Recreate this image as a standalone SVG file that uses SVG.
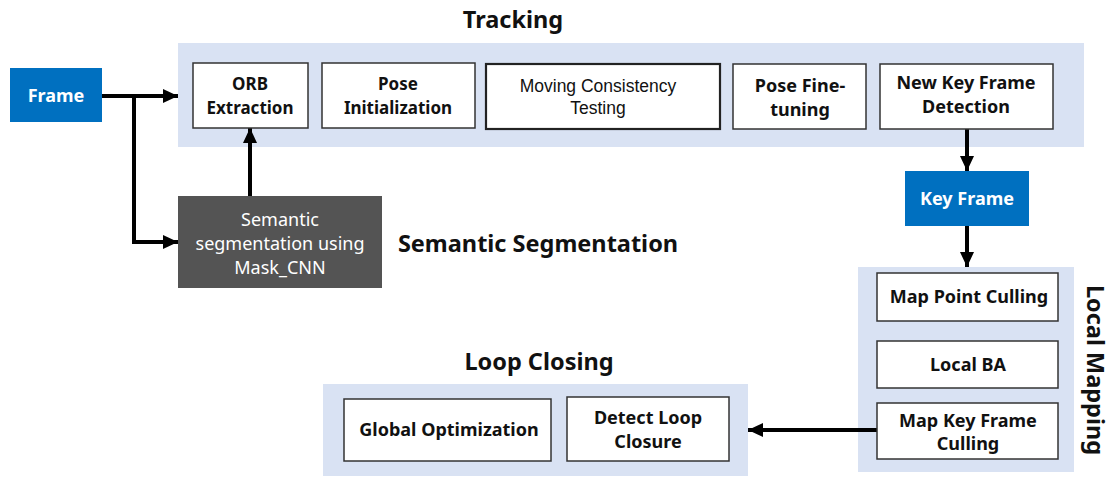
<svg xmlns="http://www.w3.org/2000/svg" width="1112" height="477" viewBox="0 0 1112 477">
  <style>
    .panel { fill: #D9E2F3; }
    .box { fill: #FFFFFF; stroke: #333333; stroke-width: 1.5; }
    .box-thick { fill: #FFFFFF; stroke: #222222; stroke-width: 2.2; }
    .blue { fill: #0070C0; }
    .dark { fill: #545454; }
    .lbl { font-family: "Noto Sans", "Open Sans", "Liberation Sans", sans-serif; font-size: 18px; font-weight: bold; fill: #111111; text-anchor: middle; }
    .lbl-sm { font-size: 17px; }
    .lbl-plain { font-family: "Liberation Sans", Arial, sans-serif; font-size: 17.5px; fill: #111111; text-anchor: middle; }
    .lbl-white { font-family: "Noto Sans", "Open Sans", "Liberation Sans", sans-serif; font-size: 18px; fill: #FFFFFF; text-anchor: middle; }
    .title { font-family: "Noto Sans", "Open Sans", "Liberation Sans", sans-serif; font-size: 23.5px; font-weight: bold; fill: #111111; text-anchor: middle; }
    .wire { fill: none; stroke: #000000; stroke-width: 4; }
  </style>
  <defs>
    <marker id="arrow" markerUnits="userSpaceOnUse" markerWidth="16" markerHeight="16" viewBox="0 0 16 16" refX="15" refY="8" orient="auto">
      <path d="M0,1 L15,8 L0,15 Z" fill="#000000"/>
    </marker>
  </defs>

  <!-- section backgrounds -->
  <g id="tracking-panel">
    <rect class="panel" x="178" y="43" width="906" height="104"/>
    <text class="title" x="513" y="28">Tracking</text>
  </g>
  <g id="local-mapping-panel">
    <rect class="panel" x="858" y="267" width="216" height="205"/>
    <text class="title" transform="translate(1087,370) rotate(90)" font-size="23px">Local Mapping</text>
  </g>
  <g id="loop-closing-panel">
    <rect class="panel" x="323" y="384" width="425" height="92"/>
    <text class="title" x="539" y="370">Loop Closing</text>
  </g>

  <!-- connectors -->
  <g id="connectors">
    <path class="wire" d="M101,96 H178" marker-end="url(#arrow)"/>
    <path class="wire" d="M134,96 V242 H178" marker-end="url(#arrow)"/>
    <path class="wire" d="M250,196 V128" marker-end="url(#arrow)"/>
    <path class="wire" d="M967,128 V171" marker-end="url(#arrow)"/>
    <path class="wire" d="M967,226 V267" marker-end="url(#arrow)"/>
    <path class="wire" d="M877,430 H748" marker-end="url(#arrow)"/>
  </g>

  <!-- nodes -->
  <g id="frame">
    <rect class="blue" x="10" y="68" width="92" height="54"/>
    <text class="lbl-white" x="56" y="102" font-weight="bold">Frame</text>
  </g>
  <g id="orb-extraction">
    <rect class="box" x="193" y="63" width="115" height="65"/>
    <text class="lbl lbl-sm" x="250" y="90">ORB</text>
    <text class="lbl lbl-sm" x="250" y="114">Extraction</text>
  </g>
  <g id="pose-initialization">
    <rect class="box" x="322" y="63" width="153" height="65"/>
    <text class="lbl lbl-sm" x="398" y="90">Pose</text>
    <text class="lbl lbl-sm" x="398" y="114">Initialization</text>
  </g>
  <g id="moving-consistency-testing">
    <rect class="box-thick" x="486" y="64" width="234" height="65"/>
    <text class="lbl-plain" x="598" y="92">Moving Consistency</text>
    <text class="lbl-plain" x="598" y="114">Testing</text>
  </g>
  <g id="pose-fine-tuning">
    <rect class="box" x="733" y="64" width="133" height="65"/>
    <text class="lbl" x="800" y="92">Pose Fine-</text>
    <text class="lbl" x="800" y="116">tuning</text>
  </g>
  <g id="new-key-frame-detection">
    <rect class="box" x="880" y="64" width="173" height="65"/>
    <text class="lbl" x="966" y="89">New Key Frame</text>
    <text class="lbl" x="966" y="113">Detection</text>
  </g>
  <g id="semantic-segmentation">
    <rect class="dark" x="178" y="196" width="204" height="92"/>
    <text class="lbl-white" x="280" y="226">Semantic</text>
    <text class="lbl-white" x="280" y="250">segmentation using</text>
    <text class="lbl-white" x="280" y="274">Mask_CNN</text>
    <text class="title" x="538" y="252">Semantic Segmentation</text>
  </g>
  <g id="key-frame">
    <rect class="blue" x="905" y="171" width="124" height="55"/>
    <text class="lbl-white" x="967" y="205" font-weight="bold">Key Frame</text>
  </g>
  <g id="map-point-culling">
    <rect class="box" x="877" y="273" width="181" height="48"/>
    <text class="lbl" x="969" y="303">Map Point Culling</text>
  </g>
  <g id="local-ba">
    <rect class="box" x="877" y="341" width="181" height="47"/>
    <text class="lbl" x="968" y="371">Local BA</text>
  </g>
  <g id="map-key-frame-culling">
    <rect class="box" x="877" y="403" width="181" height="56"/>
    <text class="lbl" x="968" y="427">Map Key Frame</text>
    <text class="lbl" x="968" y="450">Culling</text>
  </g>
  <g id="global-optimization">
    <rect class="box" x="344" y="399" width="207" height="62"/>
    <text class="lbl" x="449" y="436">Global Optimization</text>
  </g>
  <g id="detect-loop-closure">
    <rect class="box" x="567" y="397" width="162" height="64"/>
    <text class="lbl" x="648" y="424">Detect Loop</text>
    <text class="lbl" x="648" y="448">Closure</text>
  </g>
</svg>
